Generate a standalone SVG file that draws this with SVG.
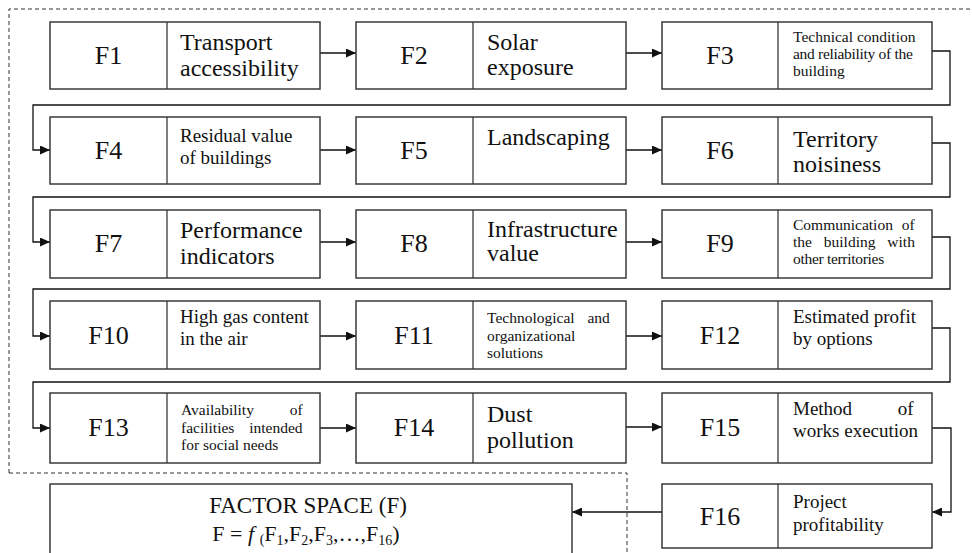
<svg xmlns="http://www.w3.org/2000/svg" width="972" height="553" viewBox="0 0 972 553">
<style>
text{font-family:"Liberation Serif","Times New Roman",serif;fill:#111}
.box{fill:#fff;stroke:#3a3a3a;stroke-width:1.5}
.div{stroke:#3a3a3a;stroke-width:1.3}
.lab{font-size:26px;text-anchor:middle}
.big{font-size:24px}
.med{font-size:19px}
.sm{font-size:15.5px}
.con{fill:none;stroke:#111;stroke-width:1.3}
.dash{fill:none;stroke:#333;stroke-width:1;stroke-dasharray:4 3}
</style>
<defs>
<marker id="ah" markerWidth="10" markerHeight="9" refX="10" refY="4.5" orient="auto" markerUnits="userSpaceOnUse">
<path d="M0,0 L10,4.5 L0,9 z" fill="#111"/>
</marker>
</defs>
<g id="frame">
<path class="dash" d="M9,473 V9 H975"/>
<path class="dash" d="M9,473 H627 V556"/>
</g>
<g id="connectors">
<path class="con" d="M320,53 H356" marker-end="url(#ah)"/>
<path class="con" d="M626,53 H662" marker-end="url(#ah)"/>
<path class="con" d="M932,51 H950 V105 H33 V150 H50" marker-end="url(#ah)"/>
<path class="con" d="M320,150 H356" marker-end="url(#ah)"/>
<path class="con" d="M626,150 H662" marker-end="url(#ah)"/>
<path class="con" d="M932,143 H950 V197 H33 V242 H50" marker-end="url(#ah)"/>
<path class="con" d="M320,242 H356" marker-end="url(#ah)"/>
<path class="con" d="M626,242 H662" marker-end="url(#ah)"/>
<path class="con" d="M932,237 H950 V289 H33 V336 H50" marker-end="url(#ah)"/>
<path class="con" d="M320,336 H356" marker-end="url(#ah)"/>
<path class="con" d="M626,336 H662" marker-end="url(#ah)"/>
<path class="con" d="M932,328 H950 V382 H33 V428 H50" marker-end="url(#ah)"/>
<path class="con" d="M320,428 H356" marker-end="url(#ah)"/>
<path class="con" d="M626,427 H662" marker-end="url(#ah)"/>
<path class="con" d="M932,428 H951 V512 H932" marker-end="url(#ah)"/>
<path class="con" d="M662,512 H572" marker-end="url(#ah)"/>
</g>
<g id="F1">
<rect class="box" x="50" y="22" width="270" height="67"/><line class="div" x1="167" y1="22" x2="167" y2="89"/>
<text class="lab" x="108.5" y="64">F1</text>
<text class="big" x="180" y="50">Transport</text><text class="big" x="180" y="76">accessibility</text>
</g>
<g id="F2">
<rect class="box" x="356" y="22" width="270" height="67"/><line class="div" x1="473" y1="22" x2="473" y2="89"/>
<text class="lab" x="414" y="64">F2</text>
<text class="big" x="487" y="50">Solar</text><text class="big" x="487" y="75">exposure</text>
</g>
<g id="F3">
<rect class="box" x="662" y="22" width="270" height="67"/><line class="div" x1="778" y1="22" x2="778" y2="89"/>
<text class="lab" x="720" y="64">F3</text>
<text class="sm" x="793" y="42">Technical condition</text>
<text class="sm" x="793" y="59" letter-spacing="-0.3">and reliability of the</text>
<text class="sm" x="793" y="76">building</text>
</g>
<g id="F4">
<rect class="box" x="50" y="117" width="270" height="67"/><line class="div" x1="167" y1="117" x2="167" y2="184"/>
<text class="lab" x="108.5" y="159">F4</text>
<text class="med" x="180" y="142" font-size="20">Residual value</text><text class="med" x="180" y="164" font-size="20">of buildings</text>
</g>
<g id="F5">
<rect class="box" x="356" y="117" width="270" height="67"/><line class="div" x1="473" y1="117" x2="473" y2="184"/>
<text class="lab" x="414" y="159">F5</text>
<text class="big" x="487" y="145">Landscaping</text>
</g>
<g id="F6">
<rect class="box" x="662" y="117" width="270" height="67"/><line class="div" x1="778" y1="117" x2="778" y2="184"/>
<text class="lab" x="720" y="159">F6</text>
<text class="big" x="793" y="147">Territory</text><text class="big" x="793" y="172">noisiness</text>
</g>
<g id="F7">
<rect class="box" x="50" y="210" width="270" height="68"/><line class="div" x1="167" y1="210" x2="167" y2="278"/>
<text class="lab" x="108.5" y="252">F7</text>
<text class="big" x="180" y="238">Performance</text><text class="big" x="180" y="264">indicators</text>
</g>
<g id="F8">
<rect class="box" x="356" y="210" width="270" height="68"/><line class="div" x1="473" y1="210" x2="473" y2="278"/>
<text class="lab" x="414" y="252">F8</text>
<text class="big" x="487" y="237" font-size="23">Infrastructure</text><text class="big" x="487" y="261" font-size="23">value</text>
</g>
<g id="F9">
<rect class="box" x="662" y="210" width="270" height="68"/><line class="div" x1="778" y1="210" x2="778" y2="278"/>
<text class="lab" x="720" y="252">F9</text>
<text class="sm" x="793" y="230" word-spacing="5">Communication of</text>
<text class="sm" x="793" y="247" word-spacing="8">the building with</text>
<text class="sm" x="793" y="264" letter-spacing="-0.3">other territories</text>
</g>
<g id="F10">
<rect class="box" x="50" y="301" width="270" height="68"/><line class="div" x1="167" y1="301" x2="167" y2="369"/>
<text class="lab" x="108.5" y="344">F10</text>
<text class="med" x="180" y="323" font-size="18.5">High gas content</text><text class="med" x="180" y="345" font-size="18.5">in the air</text>
</g>
<g id="F11">
<rect class="box" x="356" y="301" width="270" height="68"/><line class="div" x1="473" y1="301" x2="473" y2="369"/>
<text class="lab" x="414" y="344">F11</text>
<text class="sm" x="487" y="323" word-spacing="9">Technological and</text>
<text class="sm" x="487" y="341">organizational</text>
<text class="sm" x="487" y="358">solutions</text>
</g>
<g id="F12">
<rect class="box" x="662" y="301" width="270" height="68"/><line class="div" x1="778" y1="301" x2="778" y2="369"/>
<text class="lab" x="720" y="344">F12</text>
<text class="med" x="793" y="323">Estimated profit</text><text class="med" x="793" y="345">by options</text>
</g>
<g id="F13">
<rect class="box" x="50" y="393" width="270" height="70"/><line class="div" x1="167" y1="393" x2="167" y2="463"/>
<text class="lab" x="108.5" y="436">F13</text>
<text class="sm" x="181" y="415" word-spacing="32">Availability of</text>
<text class="sm" x="181" y="433" word-spacing="11">facilities intended</text>
<text class="sm" x="181" y="450">for social needs</text>
</g>
<g id="F14">
<rect class="box" x="356" y="393" width="270" height="70"/><line class="div" x1="473" y1="393" x2="473" y2="463"/>
<text class="lab" x="414" y="436">F14</text>
<text class="big" x="487" y="422">Dust</text><text class="big" x="487" y="448">pollution</text>
</g>
<g id="F15">
<rect class="box" x="662" y="393" width="270" height="70"/><line class="div" x1="778" y1="393" x2="778" y2="463"/>
<text class="lab" x="720" y="436">F15</text>
<text class="med" x="793" y="415" font-size="18.5" word-spacing="41">Method of</text>
<text class="med" x="793" y="437" font-size="18.5">works execution</text>
</g>
<g id="F16">
<rect class="box" x="662" y="484" width="270" height="64"/><line class="div" x1="778" y1="484" x2="778" y2="548"/>
<text class="lab" x="720" y="525">F16</text>
<text class="med" x="793" y="508" font-size="20">Project</text><text class="med" x="793" y="531" font-size="20">profitability</text>
</g>
<g id="factor-space">
<rect class="box" x="50" y="484" width="522" height="80"/>
<text x="308" y="513" font-size="23" text-anchor="middle">FACTOR SPACE (F)</text>
<text x="306" y="541" font-size="22" text-anchor="middle">F = <tspan font-style="italic">f</tspan> <tspan font-size="14" dy="3">(</tspan><tspan dy="-3">F</tspan><tspan font-size="14" dy="4">1</tspan><tspan dy="-4">,F</tspan><tspan font-size="14" dy="4">2</tspan><tspan dy="-4">,F</tspan><tspan font-size="14" dy="4">3</tspan><tspan dy="-4">,…,F</tspan><tspan font-size="14" dy="4">16</tspan><tspan dy="-4">)</tspan></text>
</g>
</svg>
